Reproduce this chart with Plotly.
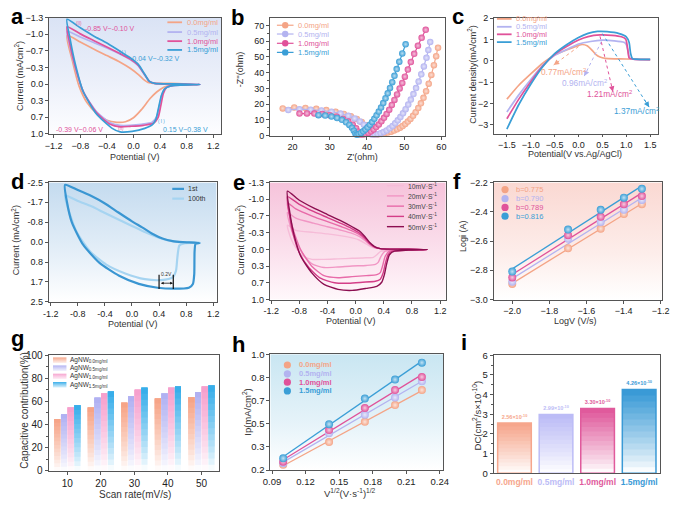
import base64
import numpy as np
import plotly.graph_objects as go

W, H = 677, 507
FONT = "Arial, Liberation Sans, sans-serif"

SAL, LAV, PNK, BLU = '#F4A486', '#B3B3F0', '#E0529A', '#3A9ED6'
CONC_COLORS = [SAL, LAV, PNK, BLU]
conc_labels = ['0.0mg/ml', '0.5mg/ml', '1.0mg/ml', '1.5mg/ml']

# ---------------- panel a : CV loops ----------------
a_x_00 = [-1.00, -0.80, -0.60, -0.40, -0.20, -0.05, 0.07, 0.15, 0.22, 0.30, 0.55, 0.80,
          0.60, 0.45, 0.35, 0.25, 0.12, 0.00, -0.12, -0.25, -0.40, -0.55, -0.70, -0.82, -0.92, -1.00]
a_y_00 = [-0.95, -0.82, -0.68, -0.55, -0.42, -0.30, -0.18, -0.08, -0.02, 0.00, 0.00, 0.01,
          0.03, 0.08, 0.17, 0.30, 0.52, 0.68, 0.76, 0.77, 0.73, 0.60, 0.38, 0.05, -0.45, -0.95]
a_x_05 = [-1.00, -0.80, -0.60, -0.40, -0.22, -0.05, 0.07, 0.17, 0.24, 0.32, 0.60, 1.00,
          0.60, 0.48, 0.43, 0.39, 0.35, 0.28, 0.12, -0.05, -0.20, -0.35, -0.55, -0.75, -0.88, -0.96, -1.00]
a_y_05 = [-1.03, -0.92, -0.81, -0.70, -0.59, -0.47, -0.35, -0.16, -0.04, 0.00, 0.01, 0.02,
          0.04, 0.09, 0.22, 0.45, 0.66, 0.77, 0.81, 0.83, 0.83, 0.78, 0.57, 0.18, -0.33, -0.75, -1.03]
a_x_10 = [-1.00, -0.80, -0.60, -0.40, -0.22, -0.05, 0.07, 0.17, 0.24, 0.32, 0.60, 1.00,
          0.60, 0.50, 0.45, 0.41, 0.37, 0.30, 0.15, -0.05, -0.20, -0.35, -0.55, -0.75, -0.88, -0.96, -1.00]
a_y_10 = [-1.12, -0.98, -0.85, -0.72, -0.60, -0.48, -0.36, -0.17, -0.04, 0.00, 0.01, 0.02,
          0.04, 0.08, 0.20, 0.45, 0.68, 0.79, 0.83, 0.85, 0.86, 0.81, 0.59, 0.18, -0.35, -0.80, -1.12]
a_x_15 = [-1.00, -0.80, -0.60, -0.40, -0.22, -0.05, 0.07, 0.17, 0.24, 0.32, 0.60, 1.00,
          0.56, 0.47, 0.42, 0.38, 0.34, 0.29, 0.17, -0.02, -0.20, -0.32, -0.56, -0.76, -0.88, -0.955, -1.00]
a_y_15 = [-1.27, -1.10, -0.94, -0.80, -0.65, -0.51, -0.38, -0.18, -0.04, 0.00, 0.01, 0.02,
          0.05, 0.11, 0.24, 0.47, 0.70, 0.81, 0.89, 0.95, 0.96, 0.89, 0.60, 0.15, -0.41, -0.89, -1.27]
a_ytick_vals = [-1.3, -0.9714, -0.6429, -0.3143, 0.0143, 0.3429, 0.6714, 1.0]
a_ytick_text = ['\u22121.3', '\u22121.0', '\u22120.7', '\u22120.3', '0.0', '0.3', '0.7', '1.0']

# ---------------- panel b : Nyquist ----------------
b_x_00 = [17.4, 20.5, 23.5, 26.4, 29.1, 31.6, 33.8, 35.7, 37.3, 38.6, 39.7, 40.5, 41.2,
          42.0, 42.9, 43.8, 44.7, 45.6, 46.5, 47.3, 48.1, 48.9, 49.6, 50.3, 51.0, 51.7, 52.4,
          53.1, 53.8, 54.5, 55.2, 55.9, 56.6, 57.3, 58.0, 58.6, 59.1]
b_y_00 = [17.3, 17.9, 17.6, 17.0, 16.2, 15.1, 13.8, 12.3, 10.6, 8.7, 6.6, 4.4, 2.3,
          0.6, 0.7, 1.0, 1.4, 1.9, 2.5, 3.2, 4.0, 5.0, 6.1, 7.4, 8.9, 10.6, 12.6,
          14.9, 17.5, 20.5, 24.0, 28.2, 33.0, 38.6, 44.8, 50.5, 55.9]
b_x_05 = [18.9, 21.9, 24.9, 27.8, 30.5, 32.9, 35.0, 36.7, 38.1, 39.2, 40.0, 40.6,
          41.3, 42.1, 42.9, 43.7, 44.5, 45.3, 46.1, 46.9, 47.6, 48.3, 49.0, 49.7, 50.4,
          51.1, 51.8, 52.5, 53.2, 53.9, 54.6, 55.3, 56.0, 56.5, 57.0]
b_y_05 = [16.3, 16.8, 16.5, 16.0, 15.2, 14.0, 12.6, 10.9, 9.0, 6.9, 4.7, 2.5,
          0.7, 0.6, 0.9, 1.5, 2.3, 3.3, 4.6, 6.1, 7.8, 9.7, 11.8, 14.2, 16.8,
          19.7, 22.9, 26.4, 30.2, 34.4, 39.0, 44.0, 49.5, 54.5, 59.6]
b_x_10 = [21.9, 23.9, 25.9, 28.0, 30.0, 31.9, 33.6, 35.0, 36.2, 37.1, 37.7,
          38.3, 39.0, 39.7, 40.4, 41.1, 41.8, 42.5, 43.2, 43.9, 44.6, 45.3, 46.0, 46.7,
          47.4, 48.1, 48.8, 49.5, 50.2, 51.0, 51.8, 52.7, 53.7, 54.7, 55.8]
b_y_10 = [14.0, 14.1, 14.0, 13.7, 13.0, 12.0, 10.6, 8.9, 6.9, 4.7, 2.5,
          0.6, 0.6, 1.0, 1.7, 2.7, 3.9, 5.4, 7.1, 9.1, 11.3, 13.8, 16.5, 19.5,
          22.7, 26.2, 30.0, 33.5, 37.5, 42.0, 46.8, 52.0, 57.2, 62.2, 67.3]
b_x_15 = [27.0, 28.8, 30.5, 32.0, 33.3, 34.4, 35.3, 36.0, 36.5, 36.9,
          37.3, 37.8, 38.4, 39.0, 39.6, 40.2, 40.8, 41.4, 42.0, 42.6, 43.2, 43.8, 44.4,
          45.0, 45.6, 46.2, 46.8, 47.4, 48.0, 48.7, 49.5, 50.4]
b_y_15 = [13.0, 12.7, 12.1, 11.2, 10.0, 8.5, 6.8, 4.9, 3.0, 1.3,
          0.5, 0.9, 1.7, 2.7, 3.9, 5.3, 6.9, 8.7, 10.7, 12.9, 15.3, 17.9, 20.7,
          23.7, 26.9, 30.3, 34.0, 38.0, 42.3, 47.0, 52.3, 58.1]

# ---------------- panel c : LSV ----------------
c_x_00 = [-1.5, -1.25, -1.0, -0.75, -0.5, -0.25, 0.0, 0.08, 0.18, 0.28, 0.36, 0.45, 0.56, 0.75, 1.0, 1.5]
c_y_00 = [-1.8, -1.15, -0.62, -0.12, 0.27, 0.5, 0.72, 0.76, 0.7, 0.5, 0.3, 0.17, 0.11, 0.09, 0.08, 0.05]
c_x_05 = [-1.5, -1.25, -1.0, -0.75, -0.5, -0.25, 0.0, 0.25, 0.5, 0.75, 0.95, 1.0, 1.04, 1.08, 1.18, 1.5]
c_y_05 = [-2.4, -1.6, -0.88, -0.22, 0.25, 0.52, 0.78, 0.9, 0.96, 0.93, 0.86, 0.76, 0.4, 0.1, 0.06, 0.05]
c_x_10 = [-1.5, -1.25, -1.0, -0.75, -0.5, -0.25, 0.0, 0.2, 0.45, 0.7, 0.9, 0.99, 1.03, 1.06, 1.15, 1.5]
c_y_10 = [-2.72, -1.8, -0.98, -0.25, 0.3, 0.67, 0.97, 1.13, 1.21, 1.19, 1.12, 1.0, 0.55, 0.13, 0.07, 0.05]
c_x_15 = [-1.5, -1.25, -1.0, -0.75, -0.5, -0.25, 0.0, 0.2, 0.4, 0.6, 0.85, 1.0, 1.06, 1.09, 1.13, 1.2, 1.5]
c_y_15 = [-3.2, -2.05, -1.1, -0.28, 0.33, 0.75, 1.09, 1.28, 1.37, 1.36, 1.27, 1.12, 0.85, 0.35, 0.1, 0.07, 0.06]
c_peak_labels = ['0.77mA/cm<sup>2</sup>', '0.96mA/cm<sup>2</sup>', '1.21mA/cm<sup>2</sup>', '1.37mA/cm<sup>2</sup>']

# ---------------- panel d : cycling ----------------
d_x_1st = [-0.99, -0.80, -0.60, -0.40, -0.20, 0.00, 0.15, 0.30, 0.45, 0.60, 0.75, 1.00,
           0.94, 0.925, 0.92, 0.90, 0.84, 0.62, 0.38, 0.10, -0.19, -0.48, -0.72, -0.89, -0.96, -0.99]
d_y_1st = [-2.40, -2.18, -1.93, -1.62, -1.24, -0.87, -0.62, -0.35, -0.15, -0.04, 0.00, 0.04,
           0.07, 0.39, 1.34, 1.75, 1.91, 1.95, 1.91, 1.75, 1.41, 0.87, 0.12, -0.84, -1.66, -2.40]
d_x_100 = [-0.99, -0.80, -0.60, -0.40, -0.20, 0.00, 0.20, 0.40, 0.55, 0.70, 1.00,
           0.77, 0.70, 0.67, 0.65, 0.60, 0.43, 0.19, -0.10, -0.38, -0.62, -0.82, -0.94, -0.99]
d_y_100 = [-1.96, -1.72, -1.50, -1.22, -0.95, -0.68, -0.41, -0.18, -0.06, 0.00, 0.02,
           0.05, 0.14, 0.66, 1.20, 1.48, 1.59, 1.55, 1.31, 0.94, 0.39, -0.43, -1.38, -1.96]
d_ytick_vals = [-2.5, -1.6667, -0.8333, 0.0, 0.8333, 1.6667, 2.5]
d_ytick_text = ['-2.5', '-1.7', '-0.8', '0.0', '0.8', '1.7', '2.5']
d_labels = ['1st', '100th']

# ---------------- panel e : scan rates ----------------
e_x_10 = [-0.97, -0.85, -0.6, -0.4, -0.2, -0.05, 0.05, 0.13, 0.2, 0.27, 0.35, 0.5, 0.75, 1.02,
          0.75, 0.36, 0.3, 0.25, 0.15, -0.05, -0.25, -0.45, -0.62, -0.74, -0.84, -0.92, -0.97]
e_y_10 = [-0.46, -0.36, -0.32, -0.29, -0.25, -0.21, -0.17, -0.11, -0.05, -0.01, 0.0, 0.01, 0.01, 0.02,
          0.03, 0.05, 0.12, 0.17, 0.18, 0.19, 0.2, 0.21, 0.21, 0.15, 0.0, -0.2, -0.46]
e_x_20 = [-0.97, -0.85, -0.6, -0.4, -0.2, -0.05, 0.05, 0.13, 0.2, 0.27, 0.35, 0.5, 0.75, 1.02,
          0.75, 0.42, 0.36, 0.32, 0.28, 0.15, -0.05, -0.25, -0.45, -0.62, -0.76, -0.86, -0.93, -0.97]
e_y_20 = [-0.71, -0.6, -0.5, -0.43, -0.36, -0.3, -0.24, -0.16, -0.08, -0.02, 0.0, 0.01, 0.01, 0.02,
          0.03, 0.05, 0.15, 0.27, 0.31, 0.33, 0.34, 0.36, 0.37, 0.3, 0.08, -0.18, -0.45, -0.71]
e_x_30 = [-0.97, -0.85, -0.6, -0.4, -0.2, -0.05, 0.05, 0.13, 0.2, 0.27, 0.35, 0.5, 0.75, 1.02,
          0.75, 0.48, 0.42, 0.38, 0.35, 0.3, 0.15, -0.05, -0.25, -0.45, -0.62, -0.77, -0.87, -0.93, -0.97]
e_y_30 = [-0.9, -0.78, -0.63, -0.53, -0.43, -0.35, -0.28, -0.19, -0.09, -0.03, 0.0, 0.01, 0.01, 0.02,
          0.03, 0.05, 0.15, 0.35, 0.47, 0.51, 0.53, 0.55, 0.57, 0.53, 0.35, 0.05, -0.3, -0.6, -0.9]
e_x_40 = [-0.97, -0.8, -0.6, -0.4, -0.2, -0.05, 0.05, 0.13, 0.2, 0.27, 0.35, 0.5, 0.75, 1.02,
          0.75, 0.52, 0.46, 0.42, 0.39, 0.35, 0.28, 0.1, -0.1, -0.3, -0.5, -0.66, -0.8, -0.9, -0.95, -0.97]
e_y_40 = [-1.02, -0.87, -0.73, -0.61, -0.49, -0.39, -0.31, -0.21, -0.1, -0.03, 0.0, 0.01, 0.01, 0.02,
          0.03, 0.05, 0.12, 0.3, 0.48, 0.6, 0.64, 0.66, 0.68, 0.67, 0.58, 0.38, 0.08, -0.35, -0.75, -1.02]
e_x_50 = [-0.97, -0.8, -0.6, -0.4, -0.2, -0.05, 0.05, 0.13, 0.2, 0.27, 0.35, 0.5, 0.75, 1.02,
          0.75, 0.55, 0.48, 0.44, 0.41, 0.37, 0.3, 0.15, -0.05, -0.25, -0.45, -0.62, -0.78, -0.88, -0.94, -0.97]
e_y_50 = [-1.13, -0.95, -0.8, -0.67, -0.54, -0.43, -0.35, -0.24, -0.12, -0.04, 0.0, 0.01, 0.01, 0.02,
          0.03, 0.05, 0.12, 0.3, 0.5, 0.66, 0.74, 0.78, 0.82, 0.8, 0.7, 0.48, 0.15, -0.3, -0.75, -1.13]
e_labels = ['10mV\u00b7S<sup>-1</sup>', '20mV\u00b7S<sup>-1</sup>', '30mV\u00b7S<sup>-1</sup>',
            '40mV\u00b7S<sup>-1</sup>', '50mV\u00b7S<sup>-1</sup>']
E_COLORS = ['#F6BCD8', '#F196C4', '#E86BA9', '#D43E88', '#8C0E50']

# ---------------- panel f : b-values ----------------
f_logv = [-2.0, -1.699, -1.523, -1.398, -1.301]
f_00 = [-2.893, -2.649, -2.516, -2.416, -2.349]
f_05 = [-2.878, -2.585, -2.471, -2.387, -2.320]
f_10 = [-2.849, -2.560, -2.434, -2.349, -2.293]
f_15 = [-2.809, -2.522, -2.387, -2.304, -2.244]
f_labels = ['b=0.775', 'b=0.790', 'b=0.789', 'b=0.816']

# ---------------- panel g : capacitive contribution ----------------
g_rate = [10, 20, 30, 40, 50]
g_00 = [44.7, 54.7, 58.9, 62.6, 63.7]
g_05 = [48.9, 63.1, 64.5, 66.8, 68.2]
g_10 = [54.7, 67.0, 70.1, 71.8, 72.9]
g_15 = [56.7, 68.7, 71.8, 72.9, 73.7]
g_labels = ['AgNW<sub>0.0mg/ml</sub>', 'AgNW<sub>0.5mg/ml</sub>', 'AgNW<sub>1.0mg/ml</sub>', 'AgNW<sub>1.5mg/ml</sub>']
G_COLORS = ['#F6A487', '#B1B1F2', '#F6A0CD', '#38AEEA']

# ---------------- panel h : Ip vs sqrt(v) ----------------
h_sqrtv = [0.100, 0.141, 0.173, 0.200, 0.224]
h_00 = [0.236, 0.393, 0.533, 0.649, 0.753]
h_05 = [0.247, 0.454, 0.582, 0.701, 0.813]
h_10 = [0.258, 0.476, 0.629, 0.753, 0.843]
h_15 = [0.281, 0.517, 0.694, 0.825, 0.942]
h_ytick_vals = [0.2, 0.36, 0.52, 0.68, 0.84, 1.0]
h_ytick_text = ['0.2', '0.3', '0.5', '0.7', '0.8', '1.0']

# ---------------- panel i : diffusion coefficient ----------------
i_cats = ['0.0mg/ml', '0.5mg/ml', '1.0mg/ml', '1.5mg/ml']
i_dc = [2.56, 2.99, 3.30, 4.26]
i_labels = ['2.56\u00d710<sup>-10</sup>', '2.99\u00d710<sup>-10</sup>', '3.30\u00d710<sup>-10</sup>', '4.26\u00d710<sup>-10</sup>']
I_COLORS = ['#F6A68C', '#BCBCF6', '#E05A9C', '#3A9AD6']


# ====================== helpers ======================
def mix(c, f):
    r, g, b = int(c[1:3], 16), int(c[3:5], 16), int(c[5:7], 16)
    return 'rgb(%d,%d,%d)' % (round(255 + (r - 255) * f), round(255 + (g - 255) * f), round(255 + (b - 255) * f))


def axn(n):
    return '' if n == 1 else str(n)


traces = []
shapes = []
annotations = []
images = []


def add_line(x, y, n, color, width=1.6, spline=True, smoothing=0.6):
    traces.append(go.Scatter(x=x, y=y, mode='lines',
                             line=dict(color=color, width=width,
                                       shape='spline' if spline else 'linear', smoothing=smoothing),
                             xaxis='x' + axn(n), yaxis='y' + axn(n), showlegend=False, hoverinfo='skip'))


def ann(text, x, y, size=7, color='#222', xanchor='left', yanchor='middle', angle=0, bold=False):
    if bold:
        text = '<b>' + text + '</b>'
    annotations.append(dict(text=text, x=x / W, y=1 - y / H, xref='paper', yref='paper',
                            xanchor=xanchor, yanchor=yanchor, showarrow=False, textangle=angle,
                            font=dict(size=size, color=color, family=FONT)))


def legline(x0, x1, y, color, width=1.8):
    shapes.append(dict(type='line', xref='paper', yref='paper', x0=x0 / W, x1=x1 / W,
                       y0=1 - y / H, y1=1 - y / H, line=dict(color=color, width=width)))


def legdot(x, y, color, r=3.6):
    shapes.append(dict(type='circle', xref='paper', yref='paper', xsizemode='pixel', ysizemode='pixel',
                       xanchor=x / W, yanchor=1 - y / H, x0=-r, x1=r, y0=-r, y1=r,
                       fillcolor=color, line=dict(width=0)))


def grad_uri(stops):
    st = ''.join('<stop offset="%s" stop-color="%s"/>' % (o, c) for o, c in stops)
    svg = ('<svg xmlns="http://www.w3.org/2000/svg" width="20" height="20" viewBox="0 0 20 20" '
           'preserveAspectRatio="none"><defs><linearGradient id="g" x1="0" y1="0" x2="0" y2="1">'
           + st + '</linearGradient></defs><rect x="0" y="0" width="20" height="20" fill="url(#g)"/></svg>')
    return 'data:image/svg+xml;base64,' + base64.b64encode(svg.encode()).decode()


# ====================== panel backgrounds ======================
BG = {
    1: [(0, '#DAE3F5'), (0.55, '#ECF0FA'), (1, '#FDFDFF')],
    4: [(0, '#C4DBEF'), (0.6, '#E5EFF8'), (1, '#FFFFFF')],
    5: [(0, '#F6C3DB'), (0.6, '#FBE1ED'), (1, '#FFF8FB')],
    6: [(0, '#FAD8D2'), (0.6, '#FDEDEA'), (1, '#FFFFFF')],
    8: [(0, '#C9E6F2'), (0.6, '#E6F3F9'), (1, '#FFFFFF')],
}
for n, stops in BG.items():
    images.append(dict(source=grad_uri(stops), xref='x%s domain' % axn(n), yref='y%s domain' % axn(n),
                       x=0, y=1, sizex=1, sizey=1, xanchor='left', yanchor='top',
                       sizing='stretch', layer='below'))

# ====================== panel a ======================
for x, y, c in zip([a_x_00, a_x_05, a_x_10, a_x_15], [a_y_00, a_y_05, a_y_10, a_y_15], CONC_COLORS):
    add_line(x, y, 1, c, 1.7)

# ====================== panel b ======================
for x, y, c in zip([b_x_00, b_x_05, b_x_10, b_x_15], [b_y_00, b_y_05, b_y_10, b_y_15], CONC_COLORS):
    traces.append(go.Scatter(x=x, y=y, mode='lines+markers', line=dict(color=c, width=1.2),
                             marker=dict(size=6.5, color=c, gradient=dict(type='radial', color=mix(c, 0.35)),
                                         line=dict(width=0)),
                             xaxis='x2', yaxis='y2', showlegend=False, hoverinfo='skip', cliponaxis=False))

# ====================== panel c ======================
for x, y, c in zip([c_x_00, c_x_05, c_x_10, c_x_15], [c_y_00, c_y_05, c_y_10, c_y_15], CONC_COLORS):
    add_line(x, y, 3, c, 1.7, smoothing=0.5)

# ====================== panel d ======================
add_line(d_x_100, d_y_100, 4, '#A6D4F1', 2.2)
add_line(d_x_1st, d_y_1st, 4, '#3A96D2', 2.2)

# ====================== panel e ======================
for x, y, c in zip([e_x_10, e_x_20, e_x_30, e_x_40, e_x_50],
                   [e_y_10, e_y_20, e_y_30, e_y_40, e_y_50], E_COLORS):
    add_line(x, y, 5, c, 1.4)

# ====================== panel f ======================
for ys, c in zip([f_00, f_05, f_10, f_15], CONC_COLORS):
    k, b0 = np.polyfit(f_logv, ys, 1)
    xf = [min(f_logv), max(f_logv)]
    traces.append(go.Scatter(x=xf, y=[k * v + b0 for v in xf], mode='lines', line=dict(color=c, width=1.3),
                             xaxis='x6', yaxis='y6', showlegend=False, hoverinfo='skip'))
for ys, c in zip([f_00, f_05, f_10, f_15], CONC_COLORS):
    traces.append(go.Scatter(x=f_logv, y=ys, mode='markers',
                             marker=dict(size=8, color=c, gradient=dict(type='radial', color=mix(c, 0.3)),
                                         line=dict(width=0)),
                             xaxis='x6', yaxis='y6', showlegend=False, hoverinfo='skip'))

# ====================== panel g (gradient bars) ======================
NSEG = 14
g_offsets = [-3.9, -1.9, 0.1, 2.1]
for vals, c, off in zip([g_00, g_05, g_10, g_15], G_COLORS, g_offsets):
    for k in range(NSEG):
        f = 0.04 + 0.96 * (k / (NSEG - 1)) ** 0.85
        traces.append(go.Bar(x=g_rate, y=[v * (1 - k / NSEG) for v in vals], base=[v * k / NSEG for v in vals],
                             width=1.8, offset=off, marker=dict(color=mix(c, f), line=dict(width=0)),
                             opacity=1, xaxis='x7', yaxis='y7', showlegend=False, hoverinfo='skip'))

# ====================== panel h ======================
for ys, c in zip([h_00, h_05, h_10, h_15], CONC_COLORS):
    k, b0 = np.polyfit(h_sqrtv, ys, 1)
    xf = [min(h_sqrtv), max(h_sqrtv)]
    traces.append(go.Scatter(x=xf, y=[k * v + b0 for v in xf], mode='lines', line=dict(color=c, width=1.3),
                             xaxis='x8', yaxis='y8', showlegend=False, hoverinfo='skip'))
for ys, c in zip([h_00, h_05, h_10, h_15], CONC_COLORS):
    traces.append(go.Scatter(x=h_sqrtv, y=ys, mode='markers',
                             marker=dict(size=8, color=c, gradient=dict(type='radial', color=mix(c, 0.3)),
                                         line=dict(width=0)),
                             xaxis='x8', yaxis='y8', showlegend=False, hoverinfo='skip'))

# ====================== panel i (gradient bars) ======================
for k in range(NSEG):
    f = 0.03 + 0.97 * (k / (NSEG - 1)) ** 0.9
    traces.append(go.Bar(x=i_cats, y=[v * (1 - k / NSEG) for v in i_dc], base=[v * k / NSEG for v in i_dc],
                         width=0.81, marker=dict(color=[mix(c, f) for c in I_COLORS], line=dict(width=0)),
                         opacity=1, xaxis='x9', yaxis='y9', showlegend=False, hoverinfo='skip'))
traces.append(go.Bar(x=i_cats, y=i_dc, width=0.81,
                     marker=dict(color='rgba(0,0,0,0)', line=dict(color=I_COLORS, width=1.5)),
                     text=['<b>%s</b>' % t for t in i_labels], textposition='outside',
                     textfont=dict(size=5.5, color=I_COLORS, family=FONT), cliponaxis=False,
                     opacity=1, xaxis='x9', yaxis='y9', showlegend=False, hoverinfo='skip'))

# ====================== layout / axes ======================
DOM = {1: (42, 218, 12, 131), 2: (268, 447, 12, 132.7), 3: (497, 665, 12.3, 131.5),
       4: (41.7, 213.3, 180.7, 303), 5: (267.7, 447.7, 180.7, 300.7), 6: (496.7, 669.3, 180.7, 300.7),
       7: (41.5, 216, 357.7, 476), 8: (268.3, 445, 356.7, 475.3), 9: (496.7, 666.7, 357.7, 478.7)}

layout = dict(width=W, height=H, margin=dict(l=0, r=0, t=0, b=0), paper_bgcolor='white',
              plot_bgcolor='rgba(0,0,0,0)', showlegend=False, barmode='overlay',
              font=dict(family=FONT, size=9, color='#222'))


def base_ax():
    return dict(showline=True, linecolor='#555', linewidth=1, mirror=True, ticks='outside', ticklen=3,
                tickwidth=1, tickcolor='#555', showgrid=False, zeroline=False,
                tickfont=dict(size=9, color='#222', family=FONT))


for n, (l, r, t, b) in DOM.items():
    xa = base_ax()
    xa.update(domain=[l / W, r / W], anchor='y' + axn(n))
    ya = base_ax()
    ya.update(domain=[1 - b / H, 1 - t / H], anchor='x' + axn(n))
    layout['xaxis' + axn(n)] = xa
    layout['yaxis' + axn(n)] = ya

pot_ticks = [-1.2, -0.8, -0.4, 0.0, 0.4, 0.8, 1.2]
layout['xaxis'].update(range=[-1.27, 1.32], tickvals=pot_ticks, tickformat='.1f')
layout['yaxis'].update(range=[1.0, -1.3], tickvals=a_ytick_vals, ticktext=a_ytick_text)
layout['xaxis2'].update(range=[14, 61], tickvals=[20, 30, 40, 50, 60])
layout['yaxis2'].update(range=[0, 75], tickvals=[0, 10, 20, 30, 40, 50, 60, 70],
                        minor=dict(ticks='outside', ticklen=2, tickcolor='#555', tickvals=[5, 15, 25, 35, 45, 55, 65]))
layout['xaxis3'].update(range=[-1.77, 1.67], tickvals=[-1.5, -1.0, -0.5, 0.0, 0.5, 1.0, 1.5], tickformat='.1f',
                        ticklen=2)
layout['yaxis3'].update(range=[-3.45, 2], tickvals=[-3, -2, -1, 0, 1, 2])
layout['xaxis4'].update(range=[-1.23, 1.25], tickvals=pot_ticks, ticktext=['-1.2', '-0.8', '-0.4', '0.0', '0.4', '0.8', '1.2'])
layout['yaxis4'].update(range=[2.5, -2.5], tickvals=d_ytick_vals, ticktext=d_ytick_text)
layout['xaxis5'].update(range=[-1.22, 1.28], tickvals=pot_ticks, ticktext=['-1.2', '-0.8', '-0.4', '0.0', '0.4', '0.8', '1.2'])
layout['yaxis5'].update(range=[1.0, -1.3], tickvals=a_ytick_vals,
                        ticktext=['-1.3', '-1.0', '-0.7', '-0.3', '0.0', '0.3', '0.7', '1.0'])
layout['xaxis6'].update(range=[-2.1, -1.19], tickvals=[-2.0, -1.8, -1.6, -1.4, -1.2], tickformat='.1f')
layout['yaxis6'].update(range=[-3.0, -2.2], tickvals=[-3.0, -2.8, -2.6, -2.4, -2.2], tickformat='.1f')
layout['xaxis7'].update(range=[4.4, 55.3], tickvals=g_rate, tickfont=dict(size=10, color='#222', family=FONT))
layout['yaxis7'].update(range=[0, 100], tickvals=[0, 20, 40, 60, 80, 100],
                        tickfont=dict(size=10, color='#222', family=FONT),
                        minor=dict(ticks='outside', ticklen=2, tickcolor='#555', tickvals=[10, 30, 50, 70, 90]))
layout['xaxis8'].update(range=[0.0885, 0.243], tickvals=[0.09, 0.12, 0.15, 0.18, 0.21, 0.24], tickformat='.2f',
                        tickfont=dict(size=9.5, color='#222', family=FONT))
layout['yaxis8'].update(range=[0.2, 1.0], tickvals=h_ytick_vals, ticktext=h_ytick_text,
                        tickfont=dict(size=9.5, color='#222', family=FONT))
layout['xaxis9'].update(type='category', range=[-0.5, 3.5], ticks='', tickvals=i_cats, tickangle=0,
                        ticktext=['<b><span style="color:%s">%s</span></b>' % (c, t) for c, t in zip(I_COLORS, i_cats)],
                        tickfont=dict(size=8.5, family=FONT))
layout['yaxis9'].update(range=[0, 6], tickvals=[0, 1, 2, 3, 4, 5, 6],
                        tickfont=dict(size=9.5, color='#222', family=FONT),
                        minor=dict(ticks='outside', ticklen=2, tickcolor='#555',
                                   tickvals=[0.5, 1.5, 2.5, 3.5, 4.5, 5.5]))

# ====================== panel letters ======================
for letter, (x, y) in zip('abcdefghi', [(1.5, 10.6), (226.5, 11.6), (452.5, 10.6), (1.5, 179.6), (228, 180.3),
                                         (453, 179.6), (1.5, 341), (227.5, 346.6), (461.5, 345)]):
    ann('<b>%s</b>' % letter, x, y, size=22, color='#000')

# ====================== axis titles ======================
TC = '#333'
ann('Potential (V)', 130, 155, 9, TC, 'center')
ann('Current (mA/cm<sup>2</sup>)', 12, 72, 9, TC, 'center', angle=-90)
ann("Z'(ohm)", 363, 155, 9, TC, 'center')
ann("-Z''(ohm)", 238, 65, 9, TC, 'center', angle=-90)
ann('Potential(V vs.Ag/AgCl)', 580, 152, 9, TC, 'center')
ann('Current density(mA/cm<sup>2</sup>)', 475, 70, 9, TC, 'center', angle=-90)
ann('Potential (V)', 128, 326, 9, TC, 'center')
ann('Current (mA/cm<sup>2</sup>)', 8, 240, 9, TC, 'center', angle=-90)
ann('Potential (V)', 351, 323, 9, TC, 'center')
ann('Current (mA/cm<sup>2</sup>)', 238, 240, 9, TC, 'center', angle=-90)
ann('LogV (V/s)', 580, 323, 9, TC, 'center')
ann('Logi (A)', 466, 236, 9, TC, 'center', angle=-90)
ann('Scan rate(mV/s)', 130, 500, 10, TC, 'center')
ann('Capacitive contribution(%)', 17, 414, 10, TC, 'center', angle=-90)
ann('V<sup>1/2</sup>(V\u00b7s<sup>-1</sup>)<sup>1/2</sup>', 350, 499, 9.5, TC, 'center')
ann('Ip(mA/cm<sup>2</sup>)', 245, 416, 9.5, TC, 'center', angle=-90)
ann('DC(cm<sup>2</sup>/s\u00d710<sup>-10</sup>)', 480, 419, 9.5, TC, 'center', angle=-90)

# ====================== legends ======================
for i, (lab, c) in enumerate(zip(conc_labels, CONC_COLORS)):
    ya = [16.7, 26.7, 36, 45][i]
    legline(163, 178, ya, c, 1.8)
    ann(lab, 181, ya, 7.5, c)
    yb = [19.7, 28.7, 38.2, 47.5][i]
    legline(275, 292, yb, c, 1.2)
    legdot(283.5, yb, c, 3.2)
    ann(lab, 295, yb, 7.5, c)
    yc = [13.2, 21.3, 29, 37][i]
    legline(500, 515, yc, c, 1.8)
    ann(lab, 517.5, yc, 7.5, c)
    yf = [188, 197.3, 206.3, 215.3][i]
    legdot(508.3, yf, c, 3.6)
    ann(f_labels[i], 517, yf, 7.5, c)
    yh = [367.7, 376.7, 385.3, 394.3][i]
    legdot(285.7, yh, c, 3.6)
    ann(conc_labels[i], 295.5, yh, 7.5, c, bold=True)

for lab, c, yd, w in zip(d_labels, ['#3A96D2', '#A6D4F1'], [187.3, 197.3], [2.2, 2.2]):
    legline(168, 180, yd, c, w)
    ann(lab, 182.5, yd, 7, '#333')

for lab, c, ye in zip(e_labels, E_COLORS, [184, 194.5, 205, 215.5, 226]):
    legline(387.5, 405, ye, c, 1.4)
    ann(lab, 407, ye, 6.8, '#444')

for lab, c, yg in zip(g_labels, G_COLORS, [362.7, 370.9, 379.3, 388.0]):
    images.append(dict(source=grad_uri([(0, c), (0.5, mix(c, 0.55)), (1, mix(c, 0.15))]), xref='paper', yref='paper',
                       x=46 / W, y=1 - (yg - 3) / H, sizex=14 / W, sizey=6 / H, xanchor='left', yanchor='top',
                       sizing='stretch', layer='above'))
    ann(lab, 61, yg, 6.5, '#333')

# ====================== panel a annotations ======================
ann('(II)', 73, 17.5, 4.5, PNK, 'center')
ann('-0.85 V~-0.10 V', 77, 23.5, 7, PNK)
ann('( I )', 117.5, 48, 4.5, BLU, 'center')
ann('-0.04 V~-0.32 V', 122.5, 53.5, 7, BLU)
ann('-0.39 V~0.06 V', 47.5, 126, 7, PNK)
ann('(II)', 115.5, 125.5, 4.5, PNK, 'center')
ann('( I )', 157, 118, 4.5, BLU, 'center')
ann('0.15 V~0.38 V', 156.5, 126, 7, BLU)

# ====================== panel c arrows + labels ======================
c_arrows = [((0.0, 0.66), (-0.52, -0.2)), ((0.48, 0.9), (0.12, -0.72)),
            ((0.45, 1.14), (0.72, -1.45)), ((0.5, 1.27), (1.48, -2.18))]
for ((x0, y0), (x1, y1)), c in zip(c_arrows, CONC_COLORS):
    shapes.append(dict(type='line', xref='x3', yref='y3', x0=x0, y0=y0, x1=x1, y1=y1,
                       line=dict(color=c, width=1, dash='dot')))
    annotations.append(dict(x=x1, y=y1, ax=x1 - 0.12 * (x1 - x0), ay=y1 - 0.12 * (y1 - y0),
                            xref='x3', yref='y3', axref='x3', ayref='y3', text='', showarrow=True,
                            arrowhead=2, arrowsize=1.1, arrowwidth=1, arrowcolor=c))
for lab, c, (xl, yl) in zip(c_peak_labels, CONC_COLORS, [(543, 68), (564, 79), (590, 89.7), (618, 107.3)]):
    ann(lab, xl, yl, 8.3, c)

# ====================== panel d annotation ======================
for xv in [0.40, 0.61]:
    shapes.append(dict(type='line', xref='x4', yref='y4', x0=xv, x1=xv, y0=1.37, y1=1.96,
                       line=dict(color='#111', width=1.2)))
annotations.append(dict(x=0.605, y=1.72, ax=0.405, ay=1.72, xref='x4', yref='y4', axref='x4', ayref='y4',
                        text='', showarrow=True, arrowhead=2, arrowsize=0.7, arrowwidth=0.8,
                        arrowside='end+start', arrowcolor='#111'))
annotations.append(dict(x=0.505, y=1.32, xref='x4', yref='y4', text='0.2V', showarrow=False,
                        font=dict(size=5, color='#333', family=FONT)))

layout['shapes'] = shapes
layout['annotations'] = annotations
layout['images'] = images

fig = go.Figure(data=traces, layout=layout)
fig.write_html('out.html')
